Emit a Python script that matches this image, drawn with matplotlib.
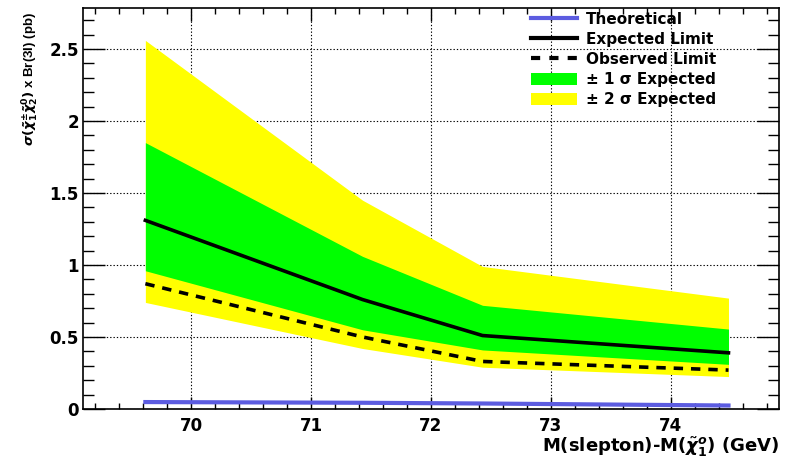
import matplotlib
matplotlib.use("Agg")
import matplotlib.pyplot as plt
from matplotlib.lines import Line2D
from matplotlib.patches import Patch
from matplotlib.ticker import MultipleLocator

plt.rcParams.update({
    "font.family": ["DejaVu Sans"],
    "font.weight": "bold",
    "mathtext.fontset": "dejavusans",
})

# Mass difference points and cross-section limits (pb)
mass_diff = [69.62, 71.43, 72.43, 74.48]
theoretical = [0.048, 0.043, 0.038, 0.024]
expected = [1.31, 0.76, 0.51, 0.39]
observed = [0.87, 0.50, 0.33, 0.27]
sigma1_low = [0.96, 0.55, 0.41, 0.31]
sigma1_high = [1.85, 1.06, 0.72, 0.555]
sigma2_low = [0.74, 0.42, 0.29, 0.225]
sigma2_high = [2.56, 1.45, 0.99, 0.77]

fig = plt.figure(figsize=(7.85, 4.59), dpi=100)
ax = fig.add_axes([0.1057, 0.109, 0.8865, 0.8736])

ax.fill_between(mass_diff, sigma2_low, sigma2_high, color="#ffff00", lw=0, zorder=2)
ax.fill_between(mass_diff, sigma1_low, sigma1_high, color="#00ff00", lw=0, zorder=3)
ax.plot(mass_diff, theoretical, color="#5c5ce0", lw=3, zorder=4)
ax.plot(mass_diff, expected, color="black", lw=2.6, zorder=5)
ax.plot(mass_diff, observed, color="black", lw=2.6, ls=(0, (2.6, 2.2)), zorder=5)

ax.set_xlim(69.1, 74.9)
ax.set_ylim(0, 2.785)
ax.xaxis.set_major_locator(MultipleLocator(1))
ax.xaxis.set_minor_locator(MultipleLocator(0.2))
ax.yaxis.set_major_locator(MultipleLocator(0.5))
ax.yaxis.set_minor_locator(MultipleLocator(0.1))
ax.yaxis.set_major_formatter(plt.FuncFormatter(lambda v, p: f"{v:g}"))

ax.grid(True, which="major", color="black", ls=(0, (1.2, 1.8)), lw=0.8, zorder=1)
ax.set_axisbelow(True)

ax.tick_params(axis="both", which="both", direction="in", top=True, right=True,
               labelsize=12, width=1)
ax.tick_params(axis="y", which="major", length=16, pad=3)
ax.tick_params(axis="y", which="minor", length=8)
ax.tick_params(axis="x", which="major", length=9, pad=6)
ax.tick_params(axis="x", which="minor", length=4.5)
for lab in ax.get_xticklabels() + ax.get_yticklabels():
    lab.set_fontweight("bold")
for s in ax.spines.values():
    s.set_linewidth(1.2)

ylab = ax.set_ylabel(r"$\sigma(\tilde{\chi}_1^{\pm}\tilde{\chi}_2^{0})$ x Br(3l) (pb)",
                     loc="top", fontsize=9.5, fontweight="bold", labelpad=6,
                     family="Liberation Sans")
ylab.set_y(0.99)
ax.set_xlabel(r"M(slepton)-M($\tilde{\chi}_1^{o}$) (GeV)", loc="right",
              fontsize=13, fontweight="bold", labelpad=0)

handles = [
    Line2D([], [], color="#5c5ce0", lw=3),
    Line2D([], [], color="black", lw=3),
    Line2D([], [], color="black", lw=3, ls=(0, (2.2, 2.2))),
    Patch(facecolor="#00ff00", edgecolor="none"),
    Patch(facecolor="#ffff00", edgecolor="none"),
]
labels = ["Theoretical", "Expected Limit", "Observed Limit",
          "\u00b1 1 \u03c3 Expected", "\u00b1 2 \u03c3 Expected"]
leg = fig.legend(handles, labels, loc="upper left", bbox_to_anchor=(0.669, 0.988),
                 frameon=False, fontsize=11, handlelength=3.0, handleheight=0.8,
                 handletextpad=0.6, labelspacing=0.34, borderaxespad=0)
for t in leg.get_texts():
    t.set_fontweight("bold")

fig.savefig("out.png", dpi=100)
